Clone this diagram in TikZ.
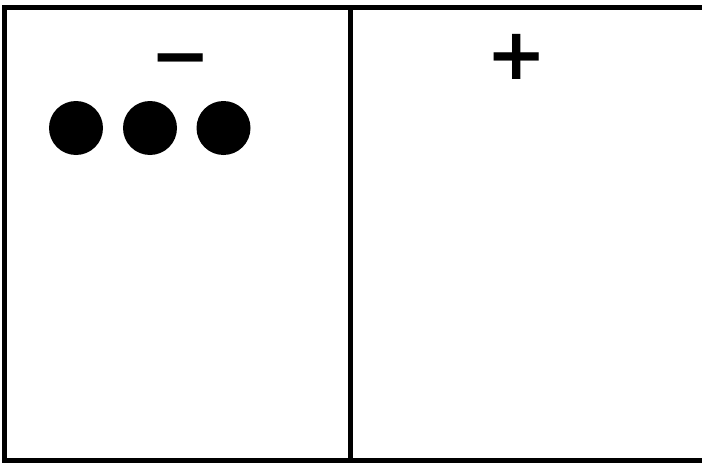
\documentclass[tikz,border=0pt]{standalone}
\usepackage{fontspec}
\newfontfamily\signfont{DejaVu Sans Bold}
\usetikzlibrary{positioning}

\tikzset{
  frame/.style={line width=5pt,line cap=rect},
  charge/.style={fill=black},
  sign/.style={inner sep=0pt,font=\signfont\fontsize{72pt}{72pt}\selectfont}
}

\begin{document}
\begin{tikzpicture}[x=1pt,y=-1pt]
\useasboundingbox (0,0) rectangle (702,463);
% container, open on the right
\draw[frame] (702,7.5)--(4,7.5)--(4,460)--(702,460);
\draw[frame] (350,7.5)--(350,460);
% signs of the two halves
\node[sign] (minus) at (181,67.5) {−};
\node[sign] (plus) at (516.5,56.5) {+};
% charges on the negative side
\fill[charge] (76,128) circle(27) coordinate (c1);
\fill[charge] (150,128) circle(27) coordinate (c2);
\fill[charge] (223.5,128) circle(27) coordinate (c3);
\end{tikzpicture}
\end{document}
